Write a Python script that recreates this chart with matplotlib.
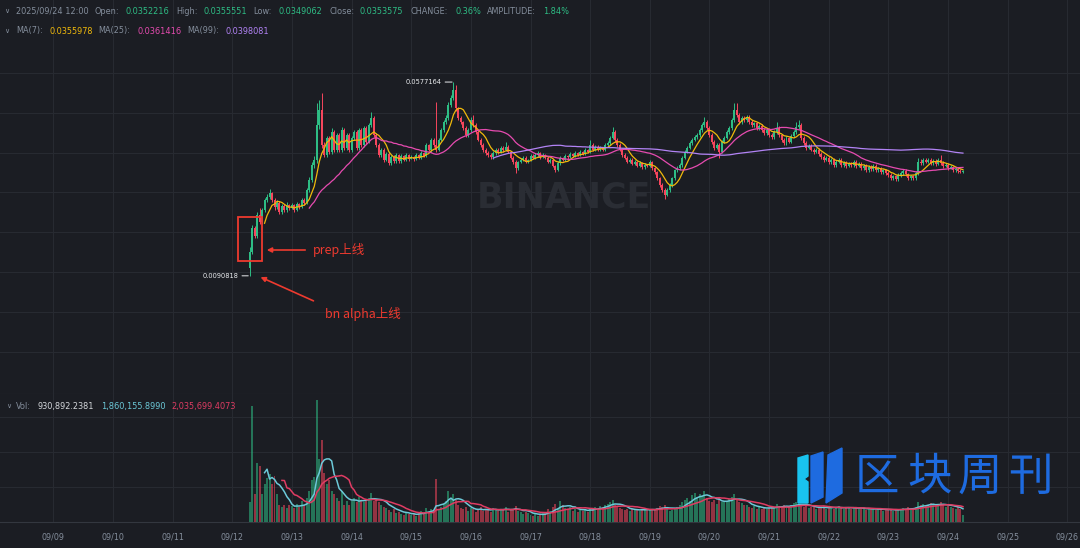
import matplotlib
matplotlib.use('Agg')
import matplotlib.pyplot as plt
import matplotlib.dates as mdates
from matplotlib.patches import Rectangle, Polygon
import numpy as np
import pandas as pd

plt.rcParams['font.family'] = ['DejaVu Sans', 'Noto Sans CJK SC']

# hourly candles, 2025-09-12 07:00 -> 2025-09-24 06:00
start_time = '2025-09-12 07:00'
first_open = 0.0110

closes = [
    # 09/12
    0.0151, 0.0211, 0.0191, 0.0243, 0.0226, 0.0256, 0.0281, 0.0289, 0.0299, 0.0281, 0.0264, 0.0274, 0.0251, 0.0266, 0.0256, 0.0269, 0.0261,
    # 09/13
    0.0269, 0.0256, 0.0271, 0.0264, 0.0281, 0.0274, 0.0306, 0.0331, 0.0369, 0.0382, 0.0469, 0.0507, 0.0419, 0.0394, 0.0437, 0.0402, 0.0452, 0.0407, 0.0444, 0.0407, 0.0457, 0.0412, 0.0444, 0.0407,
    # 09/14
    0.0437, 0.0452, 0.0412, 0.0457, 0.0419, 0.0462, 0.0427, 0.0469, 0.0487, 0.0444, 0.0419, 0.0394, 0.0407, 0.0382, 0.0397, 0.0374, 0.0389, 0.0379, 0.0394, 0.0379, 0.0392, 0.0382, 0.0394, 0.0384,
    # 09/15
    0.0389, 0.0384, 0.0394, 0.0387, 0.0399, 0.0392, 0.0419, 0.0407, 0.0432, 0.0419, 0.0407, 0.0432, 0.0457, 0.0477, 0.0487, 0.0520, 0.0537, 0.0557, 0.0512, 0.0487, 0.0477, 0.0462, 0.0444, 0.0457,
    # 09/16
    0.0482, 0.0469, 0.0452, 0.0432, 0.0419, 0.0407, 0.0399, 0.0394, 0.0389, 0.0399, 0.0407, 0.0402, 0.0412, 0.0407, 0.0414, 0.0402, 0.0387, 0.0377, 0.0361, 0.0377, 0.0382, 0.0387, 0.0377, 0.0382,
    # 09/17
    0.0392, 0.0387, 0.0394, 0.0399, 0.0389, 0.0394, 0.0387, 0.0377, 0.0382, 0.0367, 0.0356, 0.0374, 0.0387, 0.0382, 0.0392, 0.0389, 0.0397, 0.0392, 0.0399, 0.0394, 0.0402, 0.0397, 0.0407, 0.0402,
    # 09/18
    0.0419, 0.0407, 0.0414, 0.0407, 0.0412, 0.0407, 0.0419, 0.0424, 0.0437, 0.0452, 0.0432, 0.0419, 0.0407, 0.0394, 0.0387, 0.0377, 0.0382, 0.0372, 0.0377, 0.0367, 0.0374, 0.0364, 0.0369, 0.0367,
    # 09/19
    0.0377, 0.0361, 0.0351, 0.0336, 0.0319, 0.0306, 0.0294, 0.0306, 0.0319, 0.0336, 0.0356, 0.0361, 0.0369, 0.0387, 0.0402, 0.0412, 0.0424, 0.0432, 0.0439, 0.0444, 0.0457, 0.0469, 0.0477, 0.0462,
    # 09/20
    0.0444, 0.0427, 0.0412, 0.0419, 0.0402, 0.0427, 0.0437, 0.0452, 0.0462, 0.0482, 0.0507, 0.0494, 0.0477, 0.0487, 0.0482, 0.0490, 0.0477, 0.0469, 0.0474, 0.0462, 0.0467, 0.0457, 0.0449, 0.0457,
    # 09/21
    0.0444, 0.0439, 0.0452, 0.0462, 0.0444, 0.0432, 0.0424, 0.0437, 0.0427, 0.0442, 0.0452, 0.0464, 0.0469, 0.0437, 0.0424, 0.0412, 0.0417, 0.0407, 0.0402, 0.0407, 0.0397, 0.0389, 0.0382, 0.0387,
    # 09/22
    0.0377, 0.0382, 0.0369, 0.0377, 0.0382, 0.0369, 0.0374, 0.0367, 0.0372, 0.0369, 0.0377, 0.0367, 0.0372, 0.0361, 0.0367, 0.0356, 0.0364, 0.0359, 0.0367, 0.0356, 0.0361, 0.0351, 0.0356, 0.0349,
    # 09/23
    0.0344, 0.0336, 0.0341, 0.0334, 0.0344, 0.0349, 0.0354, 0.0346, 0.0336, 0.0341, 0.0336, 0.0349, 0.0377, 0.0374, 0.0382, 0.0377, 0.0382, 0.0374, 0.0379, 0.0372, 0.0382, 0.0374, 0.0367, 0.0369,
    # 09/24
    0.0361, 0.0364, 0.0356, 0.0359, 0.0354, 0.0352216, 0.0353575,
]

highs = [
    0.0162, 0.0218, 0.0215, 0.0250, 0.0262, 0.0262, 0.0287, 0.0296, 0.0309, 0.0302, 0.0286, 0.0280, 0.0279, 0.0272, 0.0270, 0.0275, 0.0272,
    0.0274, 0.0272, 0.0276, 0.0273, 0.0286, 0.0285, 0.0312, 0.0340, 0.0376, 0.0392, 0.0525, 0.0532, 0.0550, 0.0426, 0.0442, 0.0441, 0.0462, 0.0457, 0.0450, 0.0449, 0.0464, 0.0462, 0.0450, 0.0449,
    0.0443, 0.0458, 0.0456, 0.0462, 0.0462, 0.0467, 0.0466, 0.0474, 0.0502, 0.0492, 0.0449, 0.0424, 0.0412, 0.0411, 0.0401, 0.0401, 0.0393, 0.0393, 0.0398, 0.0397, 0.0396, 0.0395, 0.0398, 0.0397,
    0.0393, 0.0392, 0.0398, 0.0396, 0.0403, 0.0401, 0.0424, 0.0422, 0.0437, 0.0436, 0.0527, 0.0437, 0.0462, 0.0483, 0.0494, 0.0527, 0.0545, 0.0577164, 0.0570, 0.0515, 0.0492, 0.0480, 0.0466, 0.0462,
    0.0490, 0.0495, 0.0475, 0.0456, 0.0437, 0.0424, 0.0412, 0.0404, 0.0398, 0.0404, 0.0412, 0.0411, 0.0417, 0.0416, 0.0427, 0.0419, 0.0405, 0.0392, 0.0381, 0.0380, 0.0386, 0.0392, 0.0391, 0.0385,
    0.0397, 0.0396, 0.0398, 0.0404, 0.0402, 0.0398, 0.0397, 0.0391, 0.0386, 0.0385, 0.0370, 0.0378, 0.0391, 0.0389, 0.0396, 0.0395, 0.0401, 0.0399, 0.0403, 0.0401, 0.0406, 0.0404, 0.0411, 0.0410,
    0.0432, 0.0424, 0.0418, 0.0418, 0.0416, 0.0415, 0.0423, 0.0429, 0.0442, 0.0464, 0.0456, 0.0436, 0.0423, 0.0410, 0.0398, 0.0391, 0.0386, 0.0386, 0.0381, 0.0380, 0.0378, 0.0377, 0.0373, 0.0372,
    0.0382, 0.0380, 0.0365, 0.0355, 0.0340, 0.0323, 0.0310, 0.0310, 0.0323, 0.0340, 0.0360, 0.0366, 0.0373, 0.0392, 0.0407, 0.0417, 0.0429, 0.0437, 0.0444, 0.0450, 0.0462, 0.0474, 0.0490, 0.0482,
    0.0467, 0.0449, 0.0432, 0.0424, 0.0423, 0.0431, 0.0442, 0.0457, 0.0467, 0.0488, 0.0525, 0.0525, 0.0499, 0.0492, 0.0491, 0.0495, 0.0494, 0.0481, 0.0478, 0.0478, 0.0471, 0.0471, 0.0461, 0.0461,
    0.0462, 0.0449, 0.0457, 0.0477, 0.0466, 0.0448, 0.0437, 0.0441, 0.0440, 0.0447, 0.0457, 0.0477, 0.0482, 0.0474, 0.0441, 0.0428, 0.0421, 0.0421, 0.0411, 0.0411, 0.0411, 0.0401, 0.0393, 0.0391,
    0.0391, 0.0387, 0.0386, 0.0381, 0.0386, 0.0386, 0.0378, 0.0378, 0.0376, 0.0376, 0.0381, 0.0381, 0.0376, 0.0376, 0.0371, 0.0371, 0.0368, 0.0368, 0.0371, 0.0371, 0.0365, 0.0365, 0.0360, 0.0360,
    0.0353, 0.0348, 0.0345, 0.0345, 0.0348, 0.0353, 0.0358, 0.0358, 0.0350, 0.0345, 0.0345, 0.0353, 0.0387, 0.0384, 0.0386, 0.0386, 0.0386, 0.0386, 0.0383, 0.0383, 0.0386, 0.0394, 0.0378, 0.0373,
    0.0373, 0.0368, 0.0367, 0.0363, 0.0362, 0.0358, 0.0355551,
]

lows = [
    0.0090818, 0.0146, 0.0186, 0.0185, 0.0220, 0.0222, 0.0251, 0.0276, 0.0284, 0.0276, 0.0257, 0.0259, 0.0245, 0.0247, 0.0250, 0.0252, 0.0255,
    0.0258, 0.0251, 0.0253, 0.0259, 0.0261, 0.0268, 0.0270, 0.0301, 0.0326, 0.0362, 0.0375, 0.0460, 0.0412, 0.0388, 0.0389, 0.0396, 0.0397, 0.0401, 0.0402, 0.0401, 0.0402, 0.0407, 0.0406, 0.0402,
    0.0402, 0.0432, 0.0407, 0.0407, 0.0414, 0.0415, 0.0422, 0.0423, 0.0464, 0.0439, 0.0414, 0.0389, 0.0390, 0.0377, 0.0378, 0.0370, 0.0370, 0.0375, 0.0375, 0.0375, 0.0375, 0.0378, 0.0378, 0.0380,
    0.0383, 0.0380, 0.0381, 0.0383, 0.0384, 0.0388, 0.0389, 0.0403, 0.0402, 0.0414, 0.0402, 0.0403, 0.0428, 0.0452, 0.0472, 0.0482, 0.0514, 0.0532, 0.0505, 0.0482, 0.0471, 0.0456, 0.0438, 0.0440,
    0.0452, 0.0464, 0.0446, 0.0428, 0.0414, 0.0401, 0.0394, 0.0389, 0.0384, 0.0385, 0.0395, 0.0397, 0.0398, 0.0402, 0.0403, 0.0398, 0.0383, 0.0372, 0.0349, 0.0357, 0.0373, 0.0378, 0.0373, 0.0374,
    0.0378, 0.0384, 0.0383, 0.0390, 0.0385, 0.0386, 0.0384, 0.0373, 0.0374, 0.0363, 0.0351, 0.0353, 0.0370, 0.0378, 0.0379, 0.0385, 0.0386, 0.0388, 0.0389, 0.0391, 0.0391, 0.0394, 0.0394, 0.0398,
    0.0398, 0.0403, 0.0403, 0.0403, 0.0404, 0.0403, 0.0404, 0.0415, 0.0420, 0.0433, 0.0427, 0.0415, 0.0403, 0.0390, 0.0383, 0.0373, 0.0373, 0.0368, 0.0369, 0.0363, 0.0363, 0.0360, 0.0360, 0.0363,
    0.0363, 0.0357, 0.0347, 0.0331, 0.0314, 0.0301, 0.0284, 0.0290, 0.0302, 0.0315, 0.0332, 0.0351, 0.0357, 0.0365, 0.0383, 0.0398, 0.0408, 0.0419, 0.0428, 0.0435, 0.0440, 0.0453, 0.0465, 0.0457,
    0.0439, 0.0422, 0.0407, 0.0408, 0.0387, 0.0398, 0.0423, 0.0433, 0.0448, 0.0458, 0.0478, 0.0489, 0.0472, 0.0473, 0.0478, 0.0478, 0.0473, 0.0464, 0.0465, 0.0457, 0.0458, 0.0452, 0.0444, 0.0445,
    0.0439, 0.0434, 0.0435, 0.0448, 0.0439, 0.0427, 0.0419, 0.0420, 0.0423, 0.0423, 0.0438, 0.0448, 0.0460, 0.0432, 0.0419, 0.0407, 0.0408, 0.0403, 0.0397, 0.0398, 0.0392, 0.0384, 0.0377, 0.0378,
    0.0372, 0.0372, 0.0364, 0.0365, 0.0373, 0.0364, 0.0365, 0.0362, 0.0363, 0.0364, 0.0365, 0.0362, 0.0363, 0.0356, 0.0357, 0.0351, 0.0352, 0.0354, 0.0355, 0.0351, 0.0352, 0.0346, 0.0347, 0.0344,
    0.0340, 0.0331, 0.0331, 0.0329, 0.0330, 0.0340, 0.0345, 0.0341, 0.0331, 0.0332, 0.0331, 0.0332, 0.0345, 0.0369, 0.0370, 0.0373, 0.0373, 0.0370, 0.0370, 0.0367, 0.0368, 0.0370, 0.0362, 0.0363,
    0.0357, 0.0358, 0.0352, 0.0352, 0.0350, 0.0348, 0.0349062,
]

# volume in millions
volumes = [
    2.8, 16.6, 4.0, 8.5, 8.0, 4.0, 5.4, 6.3, 6.8, 5.5, 6.6, 4.0, 2.5, 2.2, 2.5, 2.0, 2.4,
    2.3, 2.0, 2.6, 2.2, 3.0, 2.4, 3.5, 4.5, 6.0, 6.5, 17.4, 9.0, 11.7, 7.0, 5.5, 6.0, 4.5, 4.0, 3.5, 3.0, 4.5, 2.5, 3.0, 2.5,
    3.0, 3.5, 2.8, 3.6, 3.0, 2.9, 3.2, 3.4, 4.2, 3.0, 3.3, 2.8, 2.5, 2.2, 2.0, 1.7, 1.5, 1.8, 1.3, 1.5, 1.2, 1.0, 1.3, 1.1,
    1.0, 1.2, 0.9, 1.4, 1.6, 1.3, 2.0, 1.5, 1.8, 1.7, 6.2, 1.9, 2.2, 2.6, 3.0, 4.5, 3.5, 4.0, 3.2, 2.5, 2.0, 1.8, 2.2, 1.6,
    2.0, 1.8, 1.5, 1.7, 2.1, 1.6, 1.9, 1.8, 1.5, 2.0, 1.7, 1.6, 1.9, 1.8, 2.2, 1.5, 1.7, 1.8, 2.3, 1.6, 1.4, 1.2, 1.5, 1.3,
    1.0, 0.9, 1.2, 0.8, 1.1, 1.3, 1.5, 1.9, 1.6, 2.2, 2.6, 2.0, 3.0, 2.5, 2.0, 1.9, 2.2, 1.6, 1.8, 1.5, 1.7, 1.6, 1.9, 1.5,
    2.0, 1.8, 2.2, 1.9, 2.3, 2.1, 2.5, 2.6, 2.9, 3.2, 2.4, 2.2, 2.0, 1.9, 1.7, 1.8, 1.6, 1.9, 1.7, 1.8, 1.6, 1.9, 1.7, 1.8,
    1.7, 1.9, 1.8, 2.0, 2.3, 2.1, 2.4, 1.8, 1.6, 1.7, 2.0, 2.2, 2.5, 2.8, 3.2, 3.5, 3.0, 3.8, 4.2, 3.6, 4.0, 3.7, 4.4, 3.4,
    3.0, 2.8, 3.2, 2.6, 3.4, 2.8, 2.9, 3.0, 3.3, 3.6, 4.0, 3.2, 2.9, 2.7, 2.5, 2.4, 2.2, 2.0, 2.3, 1.9, 2.1, 1.8, 2.0, 1.9,
    2.0, 2.2, 2.1, 2.6, 2.3, 2.0, 2.4, 2.2, 2.1, 2.5, 2.7, 2.9, 2.6, 2.4, 2.2, 2.3, 2.0, 2.1, 2.2, 1.9, 2.0, 2.1, 2.3, 1.9,
    2.0, 2.2, 1.9, 2.1, 2.3, 2.0, 1.8, 2.1, 2.2, 1.9, 2.0, 2.1, 1.8, 1.9, 2.0, 1.7, 1.9, 1.8, 2.0, 1.7, 1.8, 1.9, 1.6, 1.8,
    1.7, 1.8, 1.6, 1.9, 1.7, 1.8, 2.0, 1.9, 2.1, 1.8, 2.0, 2.2, 2.8, 2.5, 2.6, 2.3, 2.4, 2.7, 2.5, 2.3, 2.6, 2.8, 2.4, 2.2,
    2.3, 2.1, 2.0, 1.9, 2.2, 1.8, 0.930892,
]

header_1 = [('2025/09/24 12:00', None), ('Open:', '0.0352216'), ('High:', '0.0355551'),
            ('Low:', '0.0349062'), ('Close:', '0.0353575'), ('CHANGE:', '0.36%'),
            ('AMPLITUDE:', '1.84%')]
ma_labels = ['MA(7):', 'MA(25):', 'MA(99):']
ma_values = ['0.0355978', '0.0361416', '0.0398081']
vol_values = ['930,892.2381', '1,860,155.8990', '2,035,699.4073']

# colours
BG = '#1b1d23'
GRID = '#272a31'
GRAY = '#848e9c'
UP = '#2ebd85'
DOWN = '#f6465d'
C_MA7 = '#f0b90b'
C_MA25 = '#e64bb0'
C_MA99 = '#b283f5'
C_VMA1 = '#6cc9d8'
C_VMA2 = '#e03c63'
RED = '#ee3a2f'
WM = '#2a2d34'

W, H = 1080, 548


def px(x, y):
    return x / W, 1 - y / H


closes = np.array(closes)
volumes = np.array(volumes)
opens = np.concatenate([[first_open], closes[:-1]])
highs = np.maximum(np.array(highs), np.maximum(opens, closes))
lows = np.minimum(np.array(lows), np.minimum(opens, closes))
times = pd.date_range(start_time, periods=len(closes), freq='h')
x = mdates.date2num(times)
up = closes >= opens
cols = np.where(up, UP, DOWN)

ma7 = pd.Series(closes).rolling(7).mean()
ma25 = pd.Series(closes).rolling(25).mean()
ma99 = pd.Series(closes).rolling(99).mean()
vma1 = pd.Series(volumes).rolling(7).mean()
vma2 = pd.Series(volumes).rolling(14).mean()

fig = plt.figure(figsize=(W / 100, H / 100), dpi=100)
fig.patch.set_facecolor(BG)

ax = fig.add_axes([0, 1 - 394 / H, 1, 394 / H])
axv = fig.add_axes([0, 1 - 522 / H, 1, 128 / H], sharex=ax)

x0 = mdates.date2num(pd.Timestamp('2025-09-08')) + 6.35 / 59.65
ax.set_xlim(x0, x0 + W / 59.65)
ax.set_ylim(-82 * 0.000251, 312 * 0.000251)
axv.set_ylim(0, 128 / 7)

for a in (ax, axv):
    a.set_facecolor(BG)
    for s in a.spines.values():
        s.set_visible(False)
    a.xaxis.set_major_locator(mdates.DayLocator())
    a.grid(True, color=GRID, lw=0.8)
    a.set_axisbelow(True)
    a.tick_params(length=0, labelleft=False)

ax.set_yticks(np.arange(-0.01, 0.065, 0.01))
ax.tick_params(labelbottom=False)
ax.spines['bottom'].set_visible(True)
ax.spines['bottom'].set_color('#2e323a')
axv.set_yticks([5, 10, 15])
axv.spines['bottom'].set_visible(True)
axv.spines['bottom'].set_color('#33373f')
axv.xaxis.set_major_formatter(mdates.DateFormatter('%m/%d'))
axv.tick_params(axis='x', colors=GRAY, labelsize=5.8, pad=7.5)

# watermark
fig.text(*px(477, 197), 'BINANCE', color=WM, fontsize=25, fontweight='bold',
         va='center', ha='left', zorder=0)
cx, cy = 447, 196
for dx, dy, r in [(0, 0, 6), (-14, 0, 4), (14, 0, 4), (0, -13, 5), (0, 13, 5)]:
    pts = [px(cx + dx, cy + dy - r), px(cx + dx + r, cy + dy), px(cx + dx, cy + dy + r), px(cx + dx - r, cy + dy)]
    fig.add_artist(Polygon(pts, closed=True, transform=fig.transFigure, color=WM, zorder=0))

# candles
body_w = 0.8 / 24
ax.vlines(x, lows, highs, colors=cols, lw=0.7, zorder=3)
body = np.maximum(np.abs(closes - opens), 0.00012)
ax.bar(x, body, bottom=np.minimum(opens, closes), width=body_w, color=cols, lw=0, zorder=3)

ax.plot(x, ma7, color=C_MA7, lw=0.9, zorder=4)
ax.plot(x, ma25, color=C_MA25, lw=0.9, zorder=4)
ax.plot(x, ma99, color=C_MA99, lw=0.9, zorder=4)

# volume
axv.bar(x, volumes, width=body_w, color=cols, alpha=0.55, lw=0, zorder=3)
axv.plot(x, vma1, color=C_VMA1, lw=1.1, zorder=4)
axv.plot(x, vma2, color=C_VMA2, lw=1.1, zorder=4)

# high / low labels
imax = int(np.argmax(highs))
imin = int(np.argmin(lows))
ax.annotate('%.7f' % highs[imax], xy=(x[imax], highs[imax]), xytext=(-8.5, 0),
            textcoords='offset points', ha='right', va='center', color='#eaecef', fontsize=4.8,
            arrowprops=dict(arrowstyle='-', color='#eaecef', lw=0.7, shrinkA=0.5, shrinkB=1), zorder=6)
ax.annotate('%.7f' % lows[imin], xy=(x[imin], lows[imin]), xytext=(-8, 0),
            textcoords='offset points', ha='right', va='center', color='#eaecef', fontsize=4.8,
            arrowprops=dict(arrowstyle='-', color='#eaecef', lw=0.7, shrinkA=0.5, shrinkB=1), zorder=6)

# red annotations
fig.add_artist(Rectangle(px(237.7, 260.7), 24 / W, 44 / H, transform=fig.transFigure,
                         fill=False, ec=RED, lw=1.3, zorder=7))
ax.annotate('', xy=px(264, 250), xytext=px(308, 250), xycoords='figure fraction',
            arrowprops=dict(arrowstyle='-|>', color=RED, lw=1.2, mutation_scale=7), zorder=7)
ax.annotate('', xy=px(258, 276), xytext=px(316, 302), xycoords='figure fraction',
            arrowprops=dict(arrowstyle='-|>', color=RED, lw=1.2, mutation_scale=7), zorder=7)
fig.text(*px(313, 250), 'prep上线', color=RED, fontsize=9, va='center', ha='left',
         family=['Noto Sans CJK SC', 'DejaVu Sans'])
fig.text(*px(325, 314), 'bn alpha上线', color=RED, fontsize=9, va='center', ha='left',
         family=['Noto Sans CJK SC', 'DejaVu Sans'])

# header lines
FS = 5.9
fig.text(*px(4, 11), '∨', color=GRAY, fontsize=5, va='center')
hx = [16, 94.5, 176, 253, 329, 410.6, 487]
vx = [None, 125.5, 203.6, 278.6, 359.7, 456, 543]
for (lab, val), lx, valx in zip(header_1, hx, vx):
    fig.text(*px(lx, 11), lab, color=GRAY, fontsize=FS, va='center')
    if val:
        fig.text(*px(valx, 11), val, color=UP, fontsize=FS, va='center')

fig.text(*px(4, 31), '∨', color=GRAY, fontsize=5, va='center')
for lab, val, c, lx, valx in zip(ma_labels, ma_values, [C_MA7, C_MA25, C_MA99],
                                 [16, 98.7, 187.5], [49, 137, 226]):
    fig.text(*px(lx, 31), lab, color=GRAY, fontsize=FS, va='center')
    fig.text(*px(valx, 31), val, color=c, fontsize=FS, va='center')

fig.text(*px(6, 406.5), '∨', color=GRAY, fontsize=5, va='center')
fig.text(*px(16, 406.5), 'Vol:', color=GRAY, fontsize=FS, va='center')
for val, c, vxx in zip(vol_values, ['#d5d8dc', C_VMA1, C_VMA2], [37, 100.7, 171.7]):
    fig.text(*px(vxx, 406.5), val, color=c, fontsize=FS, va='center')

# 区块周刊 logo
fig.add_artist(Polygon([px(798, 458), px(808, 455), px(808, 476), px(804, 479), px(808, 482),
                        px(808, 503), px(798, 503)], closed=True, transform=fig.transFigure,
                       color='#19c3ee', zorder=8))
fig.add_artist(Polygon([px(811, 456), px(823, 452), px(823, 497), px(811, 503)], closed=True,
                       transform=fig.transFigure, color='#1e6be0', zorder=8))
fig.add_artist(Polygon([px(828, 455), px(842, 448), px(842, 493), px(826, 503)], closed=True,
                       transform=fig.transFigure, color='#1e6be0', zorder=8))
for ch, cxx in zip('区块周刊', [877, 930, 980, 1030]):
    fig.text(*px(cxx, 477), ch, color='#1e6be0', fontsize=32, fontweight='medium',
             ha='center', va='center', family=['Noto Sans CJK SC'], zorder=8)

fig.savefig('out.png', dpi=100, facecolor=BG)
